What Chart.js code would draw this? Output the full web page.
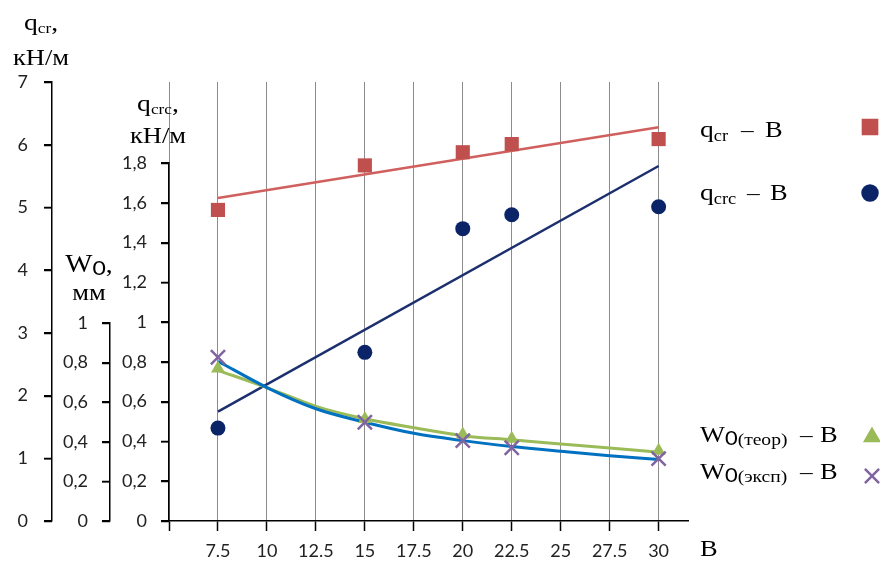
<!DOCTYPE html>
<html>
<head>
<meta charset="utf-8">
<script src="https://cdn.jsdelivr.net/npm/chart.js@4.4.1/dist/chart.umd.min.js"></script>
<style>
  html, body { margin: 0; padding: 0; background: #fff; }
  #wrap { width: 880px; height: 564px; }
</style>
</head>
<body>
<div id="wrap"><canvas id="chart" width="880" height="564"></canvas></div>
<script>
// B values where the measurements were taken
const bValues = [7.5, 15, 20, 22.5, 30];
// q_cr, kN/m (left outer axis)
const qCr = [4.96, 5.67, 5.88, 6.01, 6.09];
// q_crc, kN/m (inner axis)
const qCrc = [0.467, 0.848, 1.47, 1.54, 1.58];
// W0, mm
const w0Theor = [0.77, 0.515, 0.437, 0.416, 0.355];
const w0Exp = [0.827, 0.499, 0.406, 0.37, 0.315];

// trend lines
const trendEnds = [7.5, 30];
const qCrTrend = [5.15, 6.28];
const qCrcTrend = [0.55, 1.785];
const trendB = [7.5, 10, 12.5, 15, 17.5, 20, 22.5, 25, 27.5, 30];
const w0TheorTrend = [0.761, 0.674, 0.579, 0.516, 0.471, 0.431, 0.410, 0.389, 0.369, 0.347];
const w0ExpTrend = [0.807, 0.674, 0.567, 0.499, 0.443, 0.406, 0.376, 0.352, 0.330, 0.310];

const RED = '#C0504D', NAVY = '#0B2467', GREEN = '#9BBB59', PURPLE = '#8064A2', BLUE = '#0070C0';
const SERIF = '"Liberation Serif", "DejaVu Serif", serif';
const SANS = 'Lato, "Liberation Sans", sans-serif';
const STRETCH = 1.15; // text in the picture is a bit wider than Times

const pts = (xs, ys) => xs.map((x, i) => ({ x: x, y: ys[i] }));
const commaFmt = v => String(Math.round(v * 10) / 10).replace('.', ',');

// text pieces: [text, size, dy, family]
const P = (t, size, dy, fam) => ({ t: t, size: size || 23, dy: dy || 0, fam: fam || SERIF });

const axisTitles = [
  { cx: 41, y1: 30, y2: 65, line1: [P('q', 24), P('cr', 15, 3), P(',', 24)], line2: [P('кН/м', 23)] },
  { cx: 158, y1: 111, y2: 143, line1: [P('q', 24), P('crc', 15, 3), P(',', 24)], line2: [P('кН/м', 23)] },
  { cx: 89, y1: 272, y2: 300, line1: [P('W', 25), P('0', 20, 3, SANS), P(',', 24)], line2: [P('мм', 23)] }
];

const legendItems = [
  { y: 137, lead: [P('q', 24), P('cr', 16, 4)], dashX: 741, bX: 765, marker: { pointStyle: 'rect', radius: 10, fill: RED, x: 870, y: 127 } },
  { y: 200, lead: [P('q', 24), P('crc', 16, 4)], dashX: 747, bX: 770, marker: { pointStyle: 'circle', radius: 7.5, fill: NAVY, x: 870, y: 193 } },
  { y: 442, lead: [P('W', 23), P('0', 19, 3, SANS), P('(теор)', 17, 3)], dashX: 800, bX: 820, marker: { pointStyle: 'triangle', radius: 8, fill: GREEN, x: 872, y: 437 } },
  { y: 479, lead: [P('W', 23), P('0', 19, 3, SANS), P('(эксп)', 17, 3)], dashX: 800, bX: 820, marker: { pointStyle: 'crossRot', radius: 10, stroke: PURPLE, x: 872, y: 476 } }
];

function drawParts(ctx, x, y, parts, center) {
  let w = 0;
  parts.forEach(p => {
    ctx.font = p.size + 'px ' + p.fam;
    w += ctx.measureText(p.t).width * STRETCH;
  });
  let cx = center ? x - w / 2 : x;
  parts.forEach(p => {
    ctx.font = p.size + 'px ' + p.fam;
    ctx.save();
    ctx.translate(cx, y + p.dy);
    ctx.scale(STRETCH, 1);
    ctx.fillText(p.t, 0, 0);
    ctx.restore();
    cx += ctx.measureText(p.t).width * STRETCH;
  });
}

// short outside tick marks on the three value axes
const yTickMarks = {
  id: 'yTickMarks',
  afterDraw(chart) {
    const ctx = chart.ctx;
    ctx.save();
    ctx.strokeStyle = '#000';
    ctx.lineWidth = 1.5;
    ['yq', 'yw', 'yc'].forEach(id => {
      const s = chart.scales[id];
      s.ticks.forEach(t => {
        const y = Math.round(s.getPixelForValue(t.value)) + 0.5;
        ctx.beginPath();
        ctx.moveTo(s.right - 8, y);
        ctx.lineTo(s.right, y);
        ctx.stroke();
      });
    });
    ctx.restore();
  }
};

const textPlugin = {
  id: 'texts',
  afterDraw(chart) {
    const ctx = chart.ctx;
    ctx.save();
    ctx.fillStyle = '#000';
    ctx.textAlign = 'left';
    ctx.textBaseline = 'alphabetic';

    axisTitles.forEach(t => {
      drawParts(ctx, t.cx, t.y1, t.line1, true);
      drawParts(ctx, t.cx, t.y2, t.line2, true);
    });

    // x axis title
    drawParts(ctx, 700, 556, [P('B', 23)], false);

    legendItems.forEach(item => {
      ctx.fillStyle = '#000';
      drawParts(ctx, 700, item.y, item.lead, false);
      drawParts(ctx, item.dashX, item.y, [P('–', 22)], false);
      drawParts(ctx, item.bX, item.y, [P('B', 23)], false);

      const m = item.marker;
      ctx.fillStyle = m.fill || 'transparent';
      ctx.strokeStyle = m.stroke || m.fill;
      ctx.lineWidth = m.stroke ? 2.5 : 0;
      Chart.helpers.drawPoint(ctx, { pointStyle: m.pointStyle, radius: m.radius, rotation: 0, borderWidth: ctx.lineWidth }, m.x, m.y);
    });
    ctx.restore();
  }
};

const tickFont = { family: 'Lato', size: 18 };
const yGrid = () => ({ drawOnChartArea: false, drawTicks: true, color: '#000', tickColor: '#000', tickWidth: 1.5, tickLength: 8, lineWidth: 1.5 });
const yBorder = () => ({ color: '#000', width: 1.5 });
const yTicks = (step, cb) => ({ stepSize: step, autoSkip: false, padding: 14, color: '#222', font: tickFont, callback: cb });

new Chart(document.getElementById('chart'), {
  type: 'scatter',
  data: {
    datasets: [
      { data: pts(bValues, w0Exp), yAxisID: 'yw', pointStyle: 'crossRot', pointRadius: 10, borderColor: PURPLE, borderWidth: 2.5, backgroundColor: PURPLE },
      { data: pts(bValues, w0Theor), yAxisID: 'yw', pointStyle: 'triangle', pointRadius: 8, backgroundColor: GREEN, borderColor: GREEN, borderWidth: 0 },
      { data: pts(bValues, qCr), yAxisID: 'yq', pointStyle: 'rect', pointRadius: 10, backgroundColor: RED, borderColor: RED, borderWidth: 0 },
      { data: pts(bValues, qCrc), yAxisID: 'yc', pointStyle: 'circle', pointRadius: 7.5, backgroundColor: NAVY, borderColor: NAVY, borderWidth: 0 },
      { data: pts(trendB, w0ExpTrend), yAxisID: 'yw', showLine: true, pointRadius: 0, borderColor: BLUE, borderWidth: 3, cubicInterpolationMode: 'monotone' },
      { data: pts(trendB, w0TheorTrend), yAxisID: 'yw', showLine: true, pointRadius: 0, borderColor: GREEN, borderWidth: 3, cubicInterpolationMode: 'monotone' },
      { data: pts(trendEnds, qCrTrend), yAxisID: 'yq', showLine: true, pointRadius: 0, borderColor: '#D0605E', borderWidth: 2.5 },
      { data: pts(trendEnds, qCrcTrend), yAxisID: 'yc', showLine: true, pointRadius: 0, borderColor: '#1C2F6E', borderWidth: 2.5 }
    ]
  },
  options: {
    responsive: false,
    animation: false,
    clip: false,
    layout: { padding: { top: 82, right: 192, bottom: 0, left: 0 } },
    plugins: { legend: { display: false }, tooltip: { enabled: false } },
    scales: {
      x: {
        type: 'linear', position: 'bottom', min: 5, max: 31.5,
        ticks: { stepSize: 2.5, includeBounds: false, autoSkip: false, padding: 9, color: '#222', font: tickFont,
                 callback: v => v === 5 ? '' : String(v) },
        grid: { color: '#8c8c8c', lineWidth: 1, tickColor: '#000', tickWidth: 1.5, tickLength: 10 },
        border: { color: '#000', width: 1.5 },
        afterFit: s => { s.height = 43; }
      },
      yq: {
        type: 'linear', position: 'left', weight: 3, min: 0, max: 7,
        ticks: Object.assign(yTicks(1), { padding: 16 }),
        grid: yGrid(), border: yBorder(),
        afterFit: s => { s.width = 52; }
      },
      yw: {
        type: 'linear', position: 'left', weight: 2, stack: 'w', stackWeight: 198, min: 0, max: 1,
        ticks: yTicks(0.2, commaFmt),
        grid: yGrid(), border: yBorder(),
        afterFit: s => { s.width = 58; }
      },
      ywTop: {
        type: 'linear', position: 'left', weight: 2.1, stack: 'w', stackWeight: 241, display: false, min: 0, max: 1
      },
      yc: {
        type: 'linear', position: 'left', weight: 1, stack: 'c', stackWeight: 358, min: 0, max: 1.8,
        ticks: yTicks(0.2, commaFmt),
        grid: yGrid(), border: yBorder(),
        afterFit: s => { s.width = 59; }
      },
      ycTop: {
        type: 'linear', position: 'left', weight: 1.1, stack: 'c', stackWeight: 81, display: false, min: 0, max: 1
      }
    }
  },
  plugins: [yTickMarks, textPlugin]
});
</script>
</body>
</html>
